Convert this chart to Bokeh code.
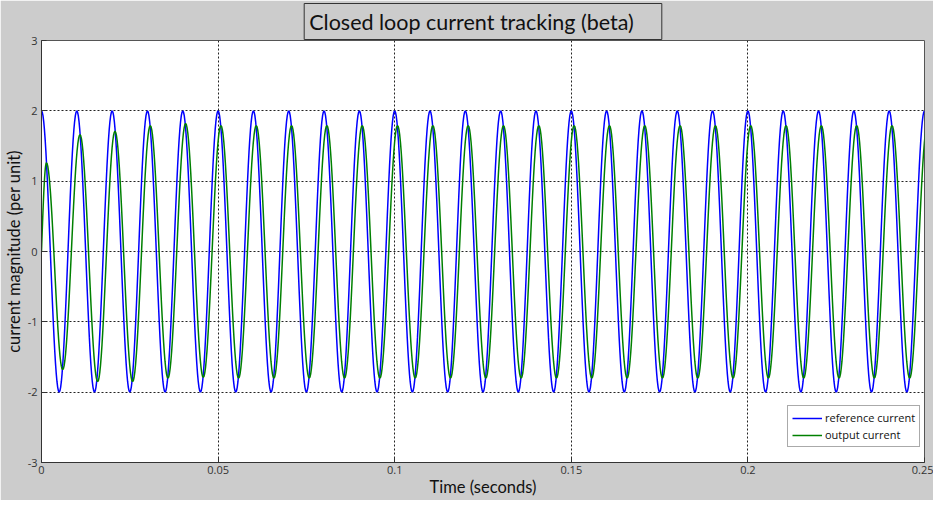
import numpy as np
from bokeh.plotting import figure
from bokeh.models import FixedTicker, Legend, LegendItem, Range1d
from bokeh.embed import file_html
from bokeh.resources import INLINE

# ---- data ----
title_text = "Closed loop current tracking (beta)"
x_label = "Time (seconds)"
y_label = "current magnitude (per unit)"
x_ticks = [0, 0.05, 0.1, 0.15, 0.2, 0.25]
x_tick_labels = ["0", "0.05", "0.1", "0.15", "0.2", "0.25"]
y_ticks = [-3, -2, -1, 0, 1, 2, 3]
y_tick_labels = ["-3", "-2", "-1", "0", "1", "2", "3"]
series_names = ["reference current", "output current"]

# reference current: 100 Hz, amplitude 2, starts at its positive peak
ref_amplitude = 2.0
ref_half_period = 0.005
ref_n_half_periods = 50

# output current: starts at 0, extrema (time, value)
out_start_value = 0.0
out_first_extrema_t = [0.0014, 0.0060, 0.0109, 0.0159, 0.0208, 0.0258, 0.0308, 0.0358, 0.0408, 0.0458]
out_first_extrema_v = [1.26, -1.68, 1.66, -1.85, 1.71, -1.85, 1.79, -1.80, 1.82, -1.79]
out_steady_peak = 1.79
out_steady_trough = -1.80
out_steady_lag = 0.0008

# ---- build waveforms from the extrema (half-cosine between extrema) ----
def wave_from_extrema(te, ve, n=24, start=None):
    ts, vs = [], []
    if start is not None:
        s = np.linspace(0, 1, n, endpoint=False)
        ts.extend(start[0] + s * (te[0] - start[0]))
        vs.extend(start[1] + (ve[0] - start[1]) * np.sin(np.pi / 2 * s))
    for i in range(len(te) - 1):
        s = np.linspace(0, 1, n, endpoint=False)
        ts.extend(te[i] + s * (te[i + 1] - te[i]))
        vs.extend(ve[i + 1] + (ve[i] - ve[i + 1]) * (1 + np.cos(np.pi * s)) / 2)
    ts.append(te[-1])
    vs.append(ve[-1])
    return np.array(ts), np.array(vs)

ref_t = [k * ref_half_period for k in range(ref_n_half_periods + 1)]
ref_v = [ref_amplitude if k % 2 == 0 else -ref_amplitude for k in range(ref_n_half_periods + 1)]
t_ref, v_ref = wave_from_extrema(ref_t, ref_v)

out_t = list(out_first_extrema_t)
out_v = list(out_first_extrema_v)
for k in range(len(out_first_extrema_t), ref_n_half_periods + 1):
    out_t.append(k * ref_half_period + out_steady_lag)
    out_v.append(out_steady_peak if k % 2 == 0 else out_steady_trough)
t_out, v_out = wave_from_extrema(out_t, out_v, start=(0.0, out_start_value))

# ---- figure ----
p = figure(width=933, height=500, output_backend="svg", toolbar_location=None,
           x_range=Range1d(0, 0.25), y_range=Range1d(-3, 3),
           min_border_left=39, min_border_right=9, min_border_top=39, min_border_bottom=38,
           title=title_text)
p.border_fill_color = "#cccccc"
p.background_fill_color = "white"
p.outline_line_color = "#555555"

r1 = p.line(t_ref, v_ref, line_color="#0000ff", line_width=1.5)
r2 = p.line(t_out, v_out, line_color="#008000", line_width=1.5)

for ax, ticks, labels in ((p.xaxis, x_ticks, x_tick_labels), (p.yaxis, y_ticks, y_tick_labels)):
    ax.ticker = FixedTicker(ticks=ticks)
    ax.major_label_overrides = {t: l for t, l in zip(ticks, labels)}
    ax.major_tick_in = 5
    ax.major_tick_out = 0
    ax.minor_tick_line_color = None
    ax.axis_line_color = "#333333"
    ax.major_tick_line_color = "#333333"
    ax.major_label_text_font = "Open Sans"
    ax.major_label_text_font_size = "11px"
    ax.major_label_text_color = "#333333"
    ax.axis_label_text_font = "Lato"
    ax.axis_label_text_font_size = "16.5px"
    ax.axis_label_text_font_style = "normal"
    ax.axis_label_text_color = "#111111"

p.xaxis.axis_label = x_label
p.yaxis.axis_label = y_label
p.xaxis.major_label_standoff = 3
p.xaxis.axis_label_standoff = 0
p.yaxis.major_label_standoff = 4
p.yaxis.axis_label_standoff = 1

for g in (p.xgrid, p.ygrid):
    g.grid_line_color = "#222222"
    g.grid_line_dash = "2 2"
    g.grid_line_width = 1

legend = Legend(items=[LegendItem(label=series_names[0], renderers=[r1]),
                       LegendItem(label=series_names[1], renderers=[r2])],
                location=(746, 15))
legend.border_line_color = "#555555"
legend.background_fill_color = "white"
legend.background_fill_alpha = 1.0
legend.label_text_font = "Open Sans"
legend.label_text_font_size = "11px"
legend.label_text_color = "#111111"
legend.label_height = 14
legend.glyph_height = 14
legend.glyph_width = 30
legend.label_standoff = 3
legend.padding = 4
legend.spacing = 2
legend.margin = 0
p.add_layout(legend)

t = p.title
t.align = "center"
t.text_font = "Lato"
t.text_font_size = "21.5px"
t.text_font_style = "normal"
t.text_color = "#111111"
t.border_line_color = "#333333"
t.border_line_width = 1
t.background_fill_color = None
t.padding = (5, 28, 5, 5)
t.standoff = 2

open("out.html", "w").write(file_html(p, INLINE))
